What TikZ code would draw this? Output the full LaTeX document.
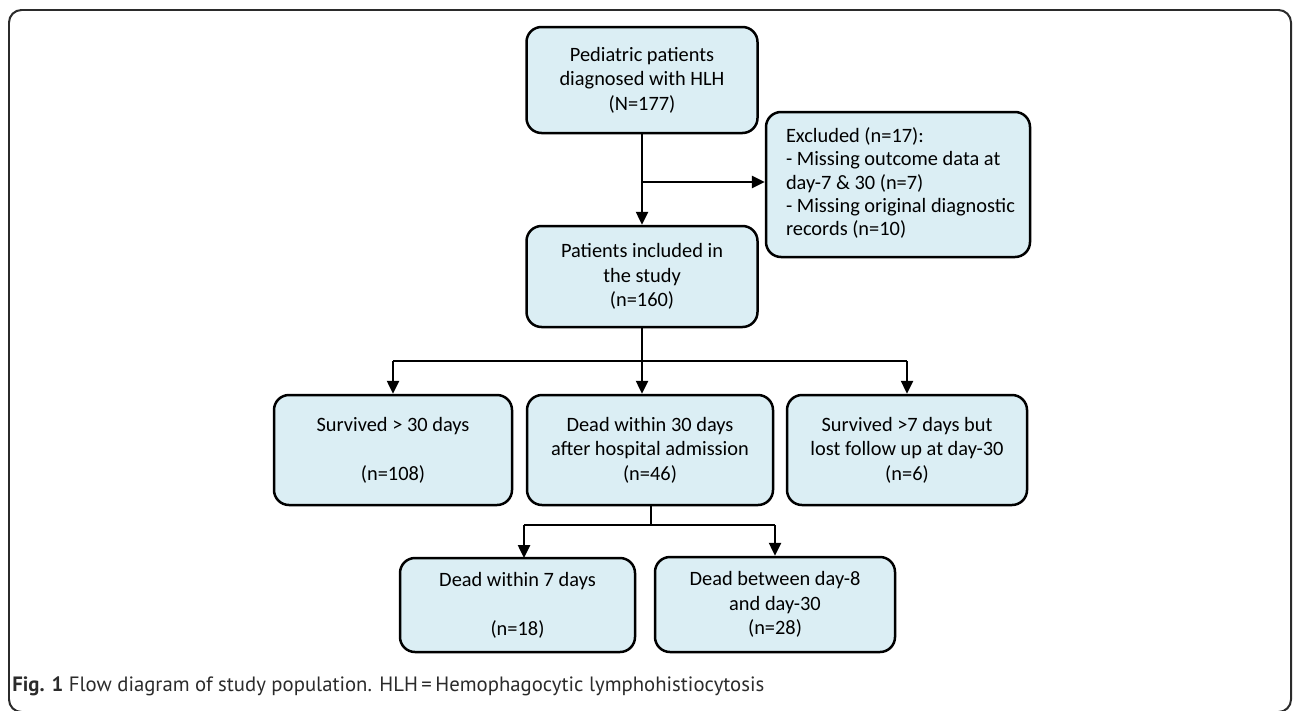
\documentclass[tikz,border=0pt]{standalone}
\usepackage{fontspec}
\setmainfont{Carlito}
\newfontfamily\capfont{PT Sans}
\usetikzlibrary{calc,arrows.meta,positioning}
\definecolor{boxblue}{HTML}{DBEEF4}
\definecolor{framegray}{HTML}{2B2B2B}

\tikzset{
    flowbox/.style={draw=black, fill=boxblue, line width=0.05cm, rounded corners=0.3cm,
        align=center, inner sep=0pt, font=\fontsize{11.6}{14}\selectfont},
    flowarrow/.style={line width=0.05cm, -{Triangle[length=0.26cm,width=0.24cm]}},
    flowline/.style={line width=0.05cm}
}

\begin{document}
\begin{tikzpicture}[x=0.02cm, y=-0.02cm]

    \useasboundingbox (0,0) rectangle (1293,710);

    %\draw (0,0) grid (1293,710);

    \draw[framegray, line width=0.04cm, rounded corners=0.25cm] (9,10) rectangle (1291,712);

    \node[flowbox, minimum width=231*0.02cm, minimum height=106*0.02cm] (pedia) at (642,80)
        {Pediatric patients\\diagnosed with HLH\\(N=177)};
    \node[flowbox, minimum width=264*0.02cm, minimum height=145*0.02cm, align=left,
        font=\fontsize{11.6}{13.2}\selectfont] (excl) at (898,184.5)
        {\hspace*{0.1cm}\begin{tabular}{@{}l@{}}Excluded (n=17):\\- Missing outcome data at\\day-7 \& 30 (n=7)\\- Missing original diagnostic\\records (n=10)\end{tabular}};
    \node[flowbox, minimum width=231*0.02cm, minimum height=101*0.02cm] (incl) at (642,276.5)
        {Patients included in\\the study\\(n=160)};

    \node[flowbox, minimum width=238*0.02cm, minimum height=110*0.02cm] (surv) at (393,450)
        {Survived > 30 days\\[14pt](n=108)};
    \node[flowbox, minimum width=246*0.02cm, minimum height=110*0.02cm] (dead30) at (650,450)
        {Dead within 30 days\\after hospital admission\\(n=46)};
    \node[flowbox, minimum width=240*0.02cm, minimum height=110*0.02cm] (lost) at (907,450)
        {Survived >7 days but\\lost follow up at day-30\\(n=6)};

    \node[flowbox, minimum width=235*0.02cm, minimum height=94*0.02cm] (dead7) at (517.5,605)
        {Dead within 7 days\\[14pt](n=18)};
    \node[flowbox, minimum width=240*0.02cm, minimum height=95*0.02cm] (deadb) at (775,604.5)
        {Dead between day-8\\and day-30\\(n=28)};

    \coordinate (J1) at (642,182);
    \coordinate (J2) at (642,361);
    \coordinate (J3) at (651,525);

    \draw[flowarrow] (pedia) -- (incl);
    \draw[flowarrow] (J1) -- (J1 -| excl.west);

    \draw[flowline] (incl) -- (J2);
    \draw[flowline] (J2 -| surv) -- (J2 -| lost);
    \draw[flowarrow] (J2 -| surv) -- (surv);
    \draw[flowarrow] (J2) -- (J2 |- dead30.north);
    \draw[flowarrow] (J2 -| lost) -- (lost);

    \draw[flowline] (J3 |- dead30.south) -- (J3);
    \draw[flowline] (524,525) -- (J3 -| deadb);
    \draw[flowarrow] (524,525) -- (524,558);
    \draw[flowarrow] (J3 -| deadb) -- (deadb);

    \node[anchor=west, inner sep=0pt, text=framegray, font=\capfont\fontsize{11.8}{13}\selectfont] (cap) at (12,686)
        {\textbf{Fig. 1} Flow diagram of study population. HLH\,=\,Hemophagocytic lymphohistiocytosis};

\end{tikzpicture}
\end{document}
